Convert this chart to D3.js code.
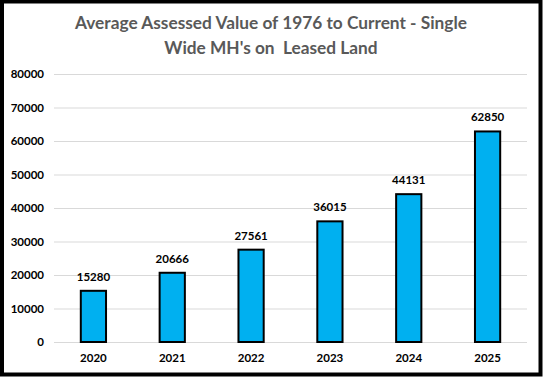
<!DOCTYPE html>
<html>
<head>
<meta charset="UTF-8">
<style>
  body { margin: 0; background: #fff; }
  svg { display: block; }
  text { font-family: Lato, "Open Sans", sans-serif; }
</style>
</head>
<body>
<svg></svg>
<script src="https://d3js.org/d3.v7.min.js"></script>
<script>
// chart data
const years = ["2020", "2021", "2022", "2023", "2024", "2025"];
const values = [15280, 20666, 27561, 36015, 44131, 62850];
const yTicks = [0, 10000, 20000, 30000, 40000, 50000, 60000, 70000, 80000];
const titleLines = ["Average Assessed Value of 1976 to Current - Single", "Wide MH's on  Leased Land"];

const width = 543, height = 377;
const svg = d3.select("svg").attr("width", width).attr("height", height);

// outer frame
svg.append("rect")
    .attr("x", 2).attr("y", 1.5)
    .attr("width", 538.5).attr("height", 373)
    .attr("fill", "white")
    .attr("stroke", "black")
    .attr("stroke-width", 4);

const x = d3.scaleBand().domain(years).range([54, 527]).paddingInner(0.68).paddingOuter(0.34);
const y = d3.scaleLinear().domain([0, 80000]).range([342, 74]);

// title
svg.append("g").selectAll("text")
    .data(titleLines)
    .enter().append("text")
    .attr("x", 271)
    .attr("y", (d, i) => 29 + i * 25)
    .attr("text-anchor", "middle")
    .attr("fill", "#595959")
    .attr("font-size", 17.3)
    .attr("font-weight", "bold")
    .style("white-space", "pre")
    .text(d => d);

// gridlines
svg.append("g").selectAll("line")
    .data(yTicks)
    .enter().append("line")
    .attr("x1", 54).attr("x2", 527)
    .attr("y1", d => y(d) + 0.5).attr("y2", d => y(d) + 0.5)
    .attr("stroke", "#d9d9d9")
    .attr("stroke-width", 1);

// y axis labels
const yAxis = d3.axisLeft(y).tickValues(yTicks).tickSize(0).tickPadding(10).tickFormat(d3.format("d"));
const gy = svg.append("g").attr("transform", "translate(54,0)").call(yAxis);
gy.select(".domain").remove();
gy.selectAll("text")
    .attr("font-family", "Lato, sans-serif")
    .attr("font-size", 11.5)
    .attr("font-weight", "bold")
    .attr("fill", "black");

// x axis labels
const xAxis = d3.axisBottom(x).tickSize(0).tickPadding(12);
const gx = svg.append("g").attr("transform", "translate(0,342)").call(xAxis);
gx.select(".domain").remove();
gx.selectAll("text")
    .attr("font-family", "Lato, sans-serif")
    .attr("font-size", 11.5)
    .attr("font-weight", "bold")
    .attr("fill", "black");

// bars
svg.append("g").selectAll("rect")
    .data(values)
    .enter().append("rect")
    .attr("x", (d, i) => x(years[i]))
    .attr("y", d => y(d))
    .attr("width", x.bandwidth())
    .attr("height", d => y(0) - y(d))
    .attr("fill", "#00B0F0")
    .attr("stroke", "black")
    .attr("stroke-width", 2);

// data labels
svg.append("g").selectAll("text")
    .data(values)
    .enter().append("text")
    .attr("x", (d, i) => x(years[i]) + x.bandwidth() / 2)
    .attr("y", d => y(d) - 10)
    .attr("text-anchor", "middle")
    .attr("font-size", 11.5)
    .attr("font-weight", "bold")
    .attr("fill", "black")
    .text(d => d);
</script>
</body>
</html>
